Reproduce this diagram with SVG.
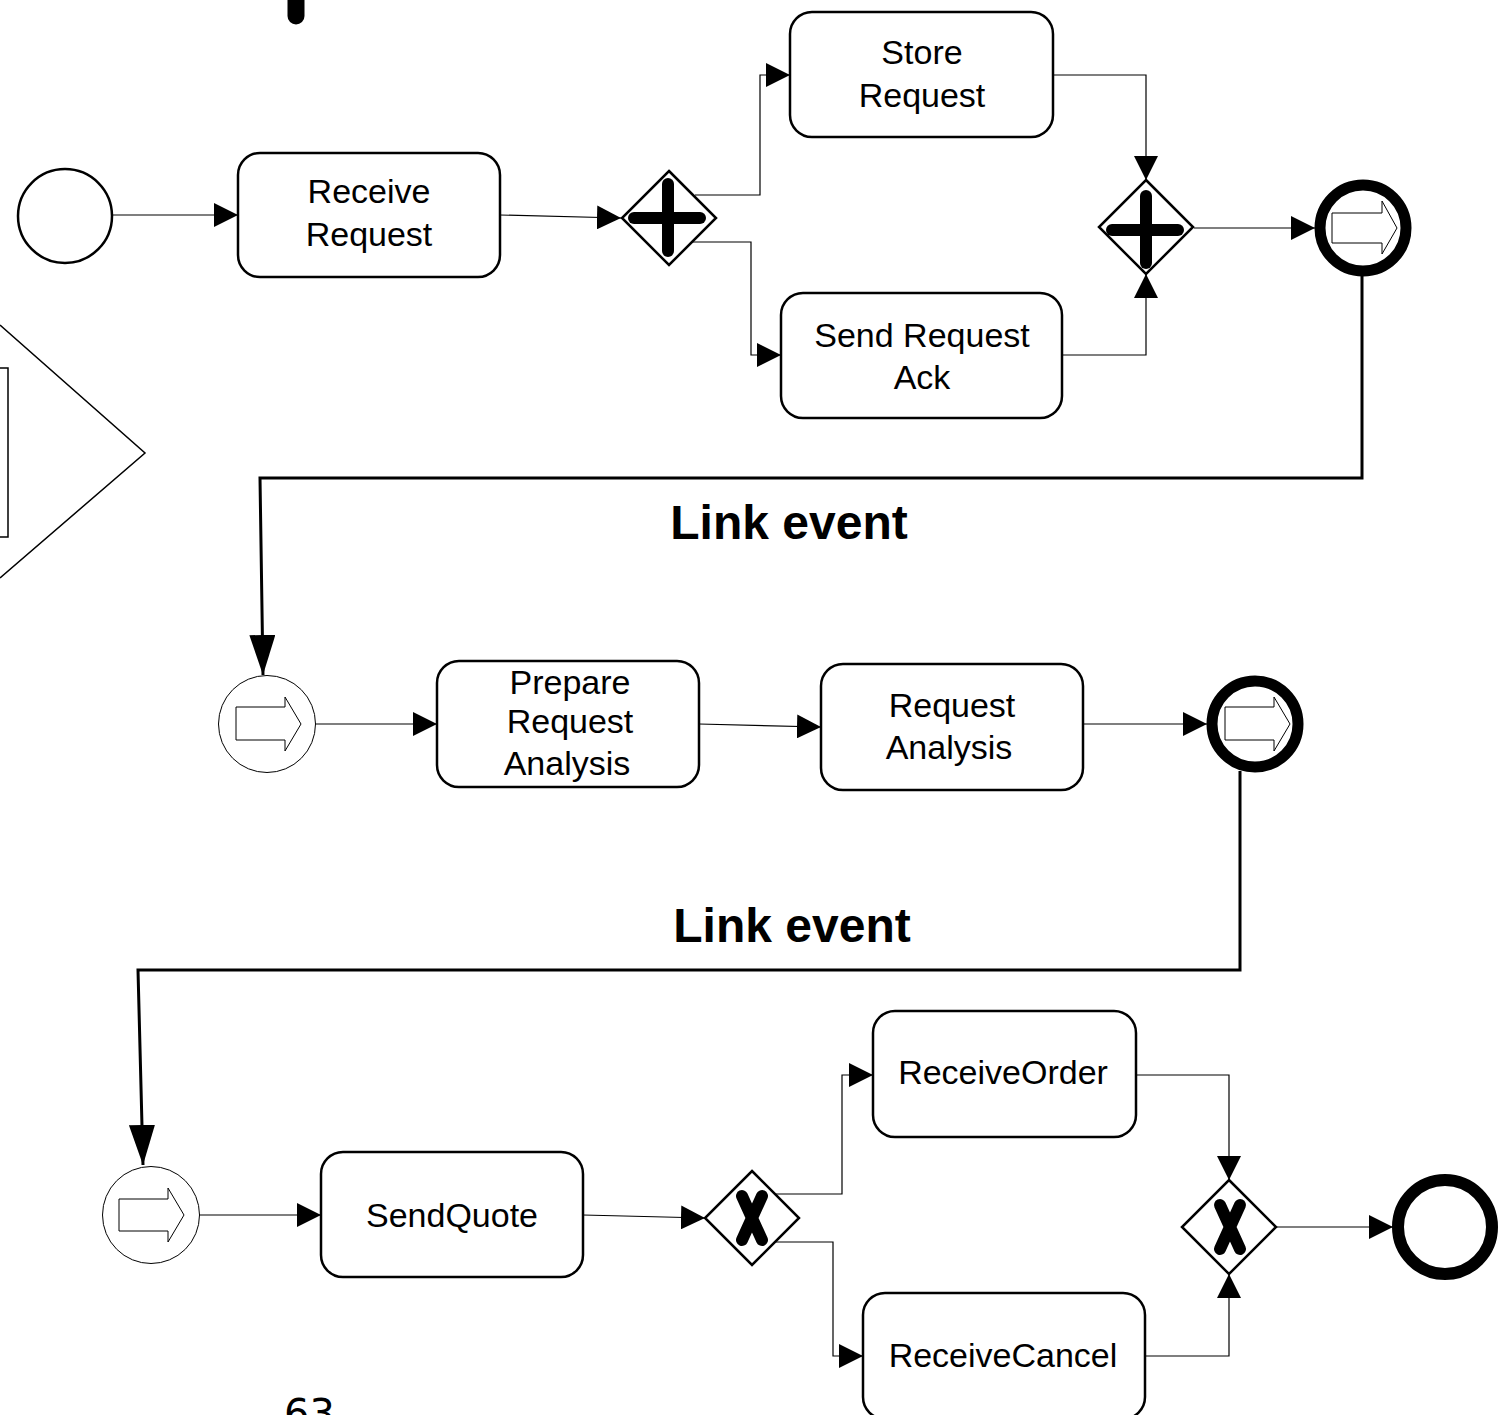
<svg xmlns="http://www.w3.org/2000/svg" width="1506" height="1415" viewBox="0 0 1506 1415">
<style>
.task{fill:#fff;stroke:#000;stroke-width:2.5}
.lbl{font-family:"Liberation Sans",Arial,sans-serif;font-size:34px;fill:#000;text-anchor:middle}
.big{font-family:"Liberation Sans",Arial,sans-serif;font-size:48px;font-weight:bold;fill:#000;text-anchor:middle}
.gw{fill:#fff;stroke:#000;stroke-width:2.5}
.mark{stroke:#000;stroke-width:12;stroke-linecap:round;fill:none}
.flow{fill:none;stroke:#000;stroke-width:1.2}
.link{fill:none;stroke:#000;stroke-width:3}
.icon{fill:#fff;stroke:#000;stroke-width:1}
</style>
<defs>
<marker id="ah" markerUnits="userSpaceOnUse" markerWidth="24" markerHeight="24" viewBox="0 0 24 24" refX="24" refY="12" orient="auto"><path d="M0,0 L24,12 L0,24 Z" fill="#000"/></marker>
<marker id="ahb" markerUnits="userSpaceOnUse" markerWidth="40" markerHeight="26" viewBox="0 0 40 26" refX="40" refY="13" orient="auto"><path d="M0,0 L40,13 L0,26 Z" fill="#000"/></marker>
</defs>

<g id="fragments">
<line x1="296" y1="0" x2="296" y2="16" stroke="#000" stroke-width="17" stroke-linecap="round"/>
<polyline points="0,325 145,453 0,578" fill="none" stroke="#000" stroke-width="1.5"/>
<polyline points="0,368 8,368 8,537 0,537" fill="none" stroke="#000" stroke-width="1.5"/>
<text x="284" y="1428" font-family="DejaVu Sans,sans-serif" font-size="40" fill="#000">63</text>
</g>

<g id="connectors">
<line class="flow" x1="113" y1="215" x2="238" y2="215" marker-end="url(#ah)"/>
<line class="flow" x1="500" y1="215" x2="621" y2="218" marker-end="url(#ah)"/>
<polyline class="flow" points="695,195 760,195 760,75 790,75" marker-end="url(#ah)"/>
<polyline class="flow" points="692,242 751,242 751,355 781,355" marker-end="url(#ah)"/>
<polyline class="flow" points="1053,75 1146,75 1146,180" marker-end="url(#ah)"/>
<polyline class="flow" points="1062,355 1146,355 1146,274" marker-end="url(#ah)"/>
<line class="flow" x1="1194" y1="228" x2="1315" y2="228" marker-end="url(#ah)"/>
<polyline class="link" points="1362,276 1362,478 260,478 263,675" marker-end="url(#ahb)"/>
<line class="flow" x1="316" y1="724" x2="437" y2="724" marker-end="url(#ah)"/>
<line class="flow" x1="699" y1="724" x2="821" y2="727" marker-end="url(#ah)"/>
<line class="flow" x1="1083" y1="724" x2="1207" y2="724" marker-end="url(#ah)"/>
<polyline class="link" points="1240,771 1240,970 138,970 143,1165" marker-end="url(#ahb)"/>
<line class="flow" x1="199" y1="1215" x2="321" y2="1215" marker-end="url(#ah)"/>
<line class="flow" x1="583" y1="1215" x2="705" y2="1218" marker-end="url(#ah)"/>
<polyline class="flow" points="776,1194 842,1194 842,1075 873,1075" marker-end="url(#ah)"/>
<polyline class="flow" points="776,1242 833,1242 833,1356 863,1356" marker-end="url(#ah)"/>
<polyline class="flow" points="1136,1075 1229,1075 1229,1180" marker-end="url(#ah)"/>
<polyline class="flow" points="1145,1356 1229,1356 1229,1274" marker-end="url(#ah)"/>
<line class="flow" x1="1277" y1="1227" x2="1393" y2="1227" marker-end="url(#ah)"/>
</g>

<g id="start">
<circle cx="65" cy="216" r="47" fill="#fff" stroke="#000" stroke-width="2.5"/>
</g>

<g id="receive-request">
<rect class="task" x="238" y="153" width="262" height="124" rx="22"/>
<text class="lbl" x="369" y="203">Receive</text>
<text class="lbl" x="369" y="246">Request</text>
</g>

<g id="and-split">
<polygon class="gw" points="669,171 716,218 669,265 622,218"/>
<line class="mark" x1="634" y1="218" x2="700" y2="218"/>
<line class="mark" x1="668" y1="184" x2="668" y2="251"/>
</g>

<g id="store-request">
<rect class="task" x="790" y="12" width="263" height="125" rx="22"/>
<text class="lbl" x="922" y="64">Store</text>
<text class="lbl" x="922" y="107">Request</text>
</g>

<g id="send-request-ack">
<rect class="task" x="781" y="293" width="281" height="125" rx="22"/>
<text class="lbl" x="922" y="347">Send Request</text>
<text class="lbl" x="922" y="389">Ack</text>
</g>

<g id="and-join">
<polygon class="gw" points="1146,180 1193,227 1146,274 1099,227"/>
<line class="mark" x1="1112" y1="230" x2="1178" y2="230"/>
<line class="mark" x1="1146" y1="196" x2="1146" y2="263"/>
</g>

<g id="link-end-1">
<circle cx="1363" cy="228" r="43" fill="#fff" stroke="#000" stroke-width="11"/>
<path class="icon" d="M1332,213 H1382 V201 L1397,228 L1382,254 V243 H1332 Z"/>
</g>

<g id="label-link-1">
<text class="big" x="789" y="539">Link event</text>
</g>

<g id="link-start-1">
<circle cx="267" cy="724" r="48.5" fill="#fff" stroke="#000" stroke-width="1"/>
<path class="icon" d="M236,707 H285 V697 L301,724 L285,751 V740 H236 Z"/>
</g>

<g id="prepare-request-analysis">
<rect class="task" x="437" y="661" width="262" height="126" rx="22"/>
<text class="lbl" x="570" y="694">Prepare</text>
<text class="lbl" x="570" y="733">Request</text>
<text class="lbl" x="567" y="775">Analysis</text>
</g>

<g id="request-analysis">
<rect class="task" x="821" y="664" width="262" height="126" rx="22"/>
<text class="lbl" x="952" y="717">Request</text>
<text class="lbl" x="949" y="759">Analysis</text>
</g>

<g id="link-end-2">
<circle cx="1255" cy="724" r="43" fill="#fff" stroke="#000" stroke-width="11"/>
<path class="icon" d="M1225,707 H1274 V697 L1290,724 L1274,751 V740 H1225 Z"/>
</g>

<g id="label-link-2">
<text class="big" x="792" y="942">Link event</text>
</g>

<g id="link-start-2">
<circle cx="151" cy="1215" r="48.5" fill="#fff" stroke="#000" stroke-width="1"/>
<path class="icon" d="M119,1199 H168 V1188 L184,1215 L168,1242 V1231 H119 Z"/>
</g>

<g id="send-quote">
<rect class="task" x="321" y="1152" width="262" height="125" rx="22"/>
<text class="lbl" x="452" y="1227">SendQuote</text>
</g>

<g id="xor-split">
<polygon class="gw" points="752,1171 799,1218 752,1265 705,1218"/>
<path class="mark" d="M742,1196 Q752,1218 762,1240 M762,1196 Q752,1218 742,1240" stroke-width="11"/>
</g>

<g id="receive-order">
<rect class="task" x="873" y="1011" width="263" height="126" rx="22"/>
<text class="lbl" x="1003" y="1084">ReceiveOrder</text>
</g>

<g id="receive-cancel">
<rect class="task" x="863" y="1293" width="282" height="126" rx="22"/>
<text class="lbl" x="1003" y="1367">ReceiveCancel</text>
</g>

<g id="xor-join">
<polygon class="gw" points="1229,1180 1276,1227 1229,1274 1182,1227"/>
<path class="mark" d="M1220,1205 Q1230,1227 1240,1249 M1240,1205 Q1230,1227 1220,1249" stroke-width="11"/>
</g>

<g id="end">
<circle cx="1445" cy="1227" r="47" fill="#fff" stroke="#000" stroke-width="12"/>
</g>
</svg>
